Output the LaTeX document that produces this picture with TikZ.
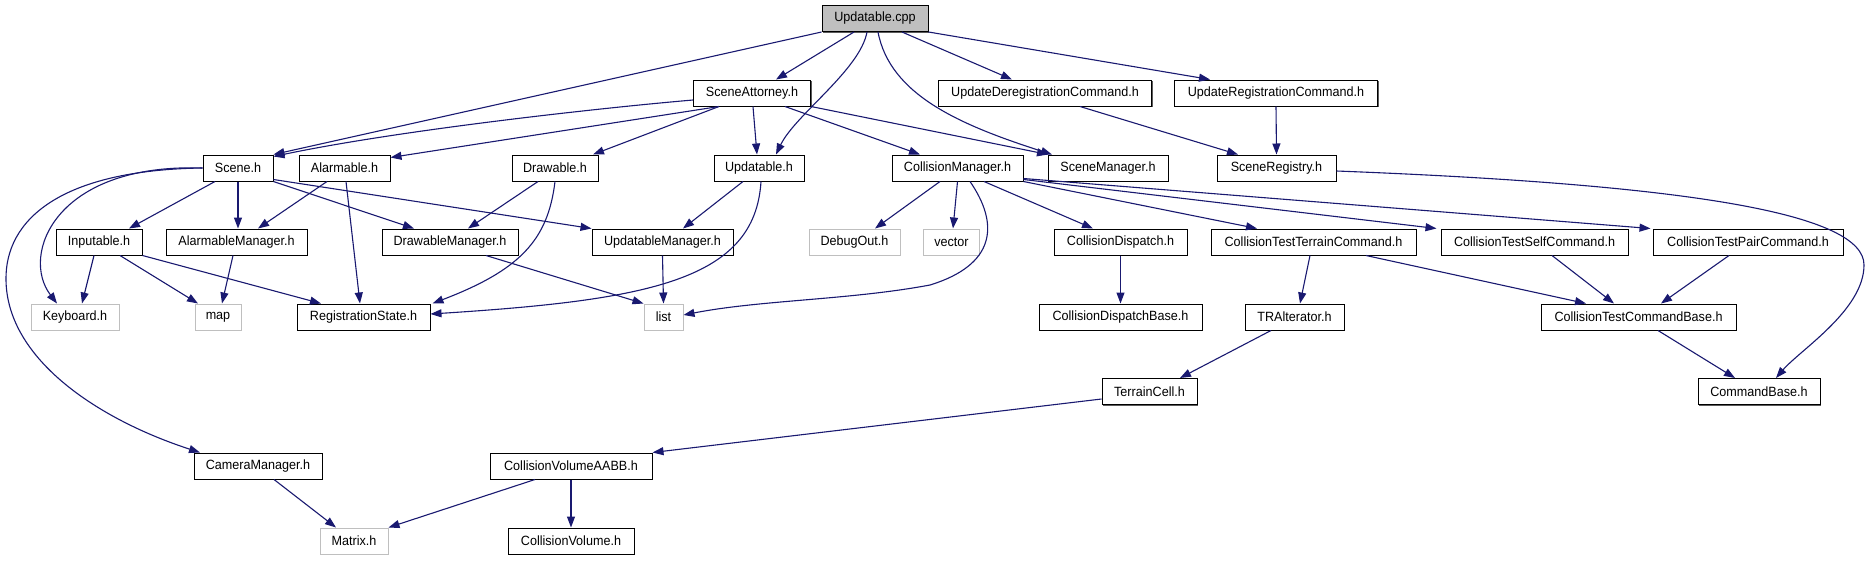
\documentclass[tikz,border=0pt]{standalone}
\usepackage{fontspec}
\setmainfont[FakeStretch=0.94]{Liberation Sans}
\usetikzlibrary{arrows.meta,shadows}
\definecolor{edgec}{RGB}{25,25,112}
\definecolor{extgrey}{RGB}{191,191,191}
\definecolor{shadowc}{RGB}{90,90,90}
\begin{document}
\begin{tikzpicture}[x=1pt,y=-1pt,
 basebox/.style={line width=1pt, fill=white, minimum height=26pt, inner sep=0pt, font=\fontsize{13.4}{15}\selectfont},
 box/.style={basebox, draw=black, drop shadow={shadow xshift=1.1pt, shadow yshift=-1.1pt, opacity=1, fill=shadowc}},
 extbox/.style={basebox, draw=extgrey},
 rootbox/.style={box, fill=extgrey},
 dep/.style={draw=edgec, line width=1.1pt, -{Triangle[length=11pt,width=8pt]}}]
\useasboundingbox (0,0) rectangle (1874,560);
% row 0
\node[rootbox, minimum width=106] (cpp) at (875,18.5) {Updatable.cpp};
% row 1
\node[box, minimum width=117] (att) at (752,93) {SceneAttorney.h};
\node[box, minimum width=213] (udc) at (1045,93) {UpdateDeregistrationCommand.h};
\node[box, minimum width=203] (urc) at (1276,93) {UpdateRegistrationCommand.h};
% row 2
\node[box, minimum width=70] (scene) at (238,168) {Scene.h};
\node[box, minimum width=91] (alarm) at (344.5,168) {Alarmable.h};
\node[box, minimum width=86] (draw) at (555,168) {Drawable.h};
\node[box, minimum width=90] (upd) at (759,168) {Updatable.h};
\node[box, minimum width=131] (cm) at (957.5,168) {CollisionManager.h};
\node[box, minimum width=120] (sm) at (1108,168) {SceneManager.h};
\node[box, minimum width=119] (sr) at (1276.5,168) {SceneRegistry.h};
% row 3
\node[box, minimum width=86] (inp) at (99,242) {Inputable.h};
\node[box, minimum width=141] (am) at (236.5,242) {AlarmableManager.h};
\node[box, minimum width=136] (dm) at (450,242) {DrawableManager.h};
\node[box, minimum width=141] (um) at (662.5,242) {UpdatableManager.h};
\node[extbox, minimum width=91] (dbg) at (854.5,242) {DebugOut.h};
\node[extbox, minimum width=56] (vec) at (951.5,242) {vector};
\node[box, minimum width=133] (cd) at (1120.5,242) {CollisionDispatch.h};
\node[box, minimum width=205] (cttc) at (1313.5,242) {CollisionTestTerrainCommand.h};
\node[box, minimum width=187] (ctsc) at (1534.5,242) {CollisionTestSelfCommand.h};
\node[box, minimum width=190] (ctpc) at (1748,242) {CollisionTestPairCommand.h};
% row 4
\node[extbox, minimum width=88] (kb) at (75,317) {Keyboard.h};
\node[extbox, minimum width=46] (map) at (218,317) {map};
\node[box, minimum width=133] (rs) at (363.5,317) {RegistrationState.h};
\node[extbox, minimum width=39] (list) at (663.5,317) {list};
\node[box, minimum width=163] (cdb) at (1120.5,317) {CollisionDispatchBase.h};
\node[box, minimum width=99] (tra) at (1294.5,317) {TRAlterator.h};
\node[box, minimum width=195] (ctcb) at (1638.5,317) {CollisionTestCommandBase.h};
% row 5
\node[box, minimum width=95] (tc) at (1149.5,391.5) {TerrainCell.h};
\node[box, minimum width=122] (cb) at (1759,391.5) {CommandBase.h};
% row 6
\node[box, minimum width=128] (cam) at (258,466) {CameraManager.h};
\node[box, minimum width=162] (cva) at (571,466) {CollisionVolumeAABB.h};
% row 7
\node[extbox, minimum width=68] (mat) at (354,541) {Matrix.h};
\node[box, minimum width=126] (cv) at (571,541) {CollisionVolume.h};

% edges from Updatable.cpp
\draw[dep] (cpp.south west) -- (scene.north east);
\draw[dep] ([xshift=-21pt]cpp.south) -- ([xshift=24pt]att.north);
\draw[dep] ([xshift=-8pt]cpp.south) .. controls (860,70) and (795,115) .. ([xshift=17pt]upd.north);
\draw[dep] ([xshift=3pt]cpp.south) .. controls (890,95) and (960,125) .. ([xshift=-56pt]sm.north);
\draw[dep] ([xshift=27pt]cpp.south) -- ([xshift=-33pt]udc.north);
\draw[dep] (cpp.south east) -- ([xshift=-66pt]urc.north);
% SceneAttorney
\draw[dep] ([yshift=-7pt]att.west) .. controls (600,108) and (400,130) .. ([yshift=-2pt]scene.north east);
\draw[dep] ([xshift=-33pt]att.south) -- ([yshift=-3pt]alarm.north east);
\draw[dep] ([xshift=-33pt]att.south) -- ([xshift=38pt]draw.north);
\draw[dep] ([xshift=1pt]att.south) -- ([xshift=-2pt]upd.north);
\draw[dep] ([xshift=33pt]att.south) -- ([xshift=-37.5pt]cm.north);
\draw[dep] (att.south east) -- ([xshift=-60pt]sm.north);
% Update*Command
\draw[dep] ([xshift=35pt]udc.south) -- ([xshift=-38.5pt]sr.north);
\draw[dep] (urc.south) -- (sr.north);
% SceneRegistry
\coordinate (srbend) at (1864,265);
\draw[dep] ([yshift=-3pt]sr.east) .. controls (1700,185) and (1864,215) .. (srbend) .. controls (1864,310) and (1800,350) .. ([xshift=17pt]cb.north);
% Scene.h
\draw[dep] ([xshift=-23pt]scene.south) -- ([xshift=30pt]inp.north);
\draw[dep] (scene.south) -- ([xshift=1.5pt]am.north);
\draw[dep] (scene.south east) -- ([xshift=-36pt]dm.north);
\draw[dep] ([yshift=2pt]scene.south east) -- (um.north west);
\draw[dep] (scene.west) .. controls (55,163) and (20,255) .. ([xshift=-18pt]kb.north);
\coordinate (cambend) at (6,280);
\draw[dep] (scene.west) .. controls (60,170) and (5,220) .. (cambend) .. controls (7,360) and (100,420) .. ([xshift=-58pt]cam.north);
% Alarmable
\draw[dep] ([xshift=-17.5pt]alarm.south) -- ([xshift=21.5pt]am.north);
\draw[dep] ([xshift=1.5pt]alarm.south) -- ([xshift=-3.5pt]rs.north);
% Drawable
\draw[dep] ([xshift=-17pt]draw.south) -- ([xshift=18pt]dm.north);
\draw[dep] (draw.south) .. controls (548,240) and (520,270) .. ([xshift=2pt]rs.north east);
% Updatable.h
\draw[dep] ([xshift=-16pt]upd.south) -- ([xshift=20.5pt]um.north);
\draw[dep] ([xshift=2pt]upd.south) .. controls (755,280) and (650,300) .. ([yshift=3pt]rs.east);
% Inputable
\draw[dep] ([xshift=-5pt]inp.south) -- ([xshift=7pt]kb.north);
\draw[dep] ([xshift=21pt]inp.south) -- ([xshift=-20pt]map.north);
\draw[dep] (inp.south east) -- ([xshift=-42.5pt]rs.north);
% managers
\draw[dep] ([xshift=-3.5pt]am.south) -- ([xshift=4pt]map.north);
\draw[dep] ([xshift=36pt]dm.south) -- (list.north west);
\draw[dep] (um.south) -- (list.north);
% CollisionManager
\draw[dep] ([xshift=-17.5pt]cm.south) -- ([xshift=20.5pt]dbg.north);
\draw[dep] (cm.south) -- ([xshift=1.5pt]vec.north);
\coordinate (cmbend) at (930,285);
\draw[dep] ([xshift=12.5pt]cm.south) .. controls (1000,225) and (995,265) .. (cmbend) .. controls (850,300) and (760,300) .. ([yshift=2pt]list.east);
\draw[dep] ([xshift=26.5pt]cm.south) -- ([xshift=-27.5pt]cd.north);
\draw[dep] (cm.south east) -- ([xshift=-56.5pt]cttc.north);
\draw[dep] ([yshift=2pt]cm.south east) -- ([xshift=-4pt]ctsc.north west);
\draw[dep] ([yshift=3pt]cm.south east) -- ([xshift=-2pt]ctpc.north west);
% collision tests
\draw[dep] (cd.south) -- (cdb.north);
\draw[dep] ([xshift=-3.5pt]cttc.south) -- ([xshift=5.5pt]tra.north);
\draw[dep] ([xshift=52.5pt]cttc.south) -- ([xshift=-52.5pt]ctcb.north);
\draw[dep] ([xshift=17.5pt]ctsc.south) -- ([xshift=-24.5pt]ctcb.north);
\draw[dep] ([xshift=-19pt]ctpc.south) -- ([xshift=22.5pt]ctcb.north);
\draw[dep] ([xshift=19.5pt]ctcb.south) -- ([xshift=-24pt]cb.north);
\draw[dep] ([xshift=-23.5pt]tra.south) -- ([xshift=30.5pt]tc.north);
\draw[dep] ([yshift=-7.5pt]tc.west) -- (cva.north east);
% bottom
\draw[dep] ([xshift=16pt]cam.south) -- ([xshift=-18pt]mat.north);
\draw[dep] ([xshift=-36pt]cva.south) -- (mat.north east);
\draw[dep] (cva.south) -- (cv.north);
\end{tikzpicture}
\end{document}
